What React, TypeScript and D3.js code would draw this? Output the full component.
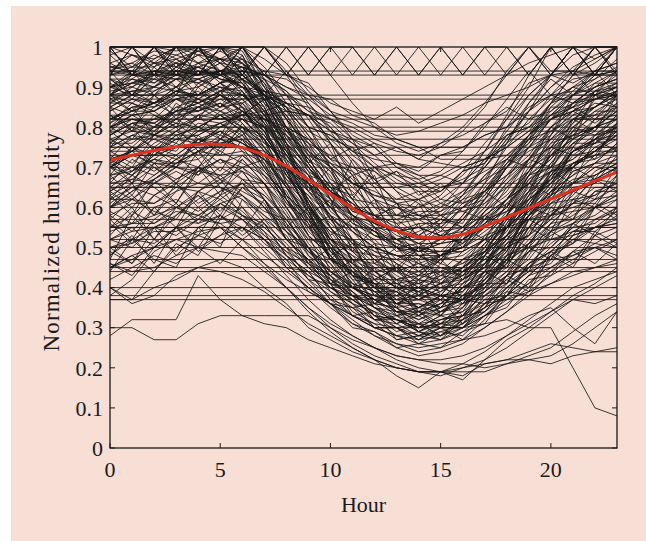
import React from 'react';
import * as d3 from 'd3';

// Hours of the day (x categories)
const hours = [0,1,2,3,4,5,6,7,8,9,10,11,12,13,14,15,16,17,18,19,20,21,22,23];
const xTicks = [0, 5, 10, 15, 20];
const yTicks = [0, 10, 20, 30, 40, 50, 60, 70, 80, 90, 100];
const yTickLabels = ['0', '0.1', '0.2', '0.3', '0.4', '0.5', '0.6', '0.7', '0.8', '0.9', '1'];

// Mean (fitted) normalized humidity by hour, in percent
const meanCurve = [71.8,73.0,74.2,75.1,75.7,75.7,74.9,73.0,70.3,66.9,63.3,59.8,56.6,54.2,52.7,52.4,53.3,55.3,57.5,59.8,62.1,64.3,66.6,68.8];

// Days that stay at one constant value all day (percent)
const flatLevels = [94, 93, 88, 87, 83, 82, 80, 79, 77, 75, 73, 70, 66, 65, 60, 57, 55, 52, 50, 47, 45, 44, 40, 38, 37];

// Saturated days near the top of the range (percent)
const saturatedDays = [
  [100,93,100,93,100,93,100,93,100,93,100,93,100,93,100,93,100,93,100,93,100,93,100,93],
  [93,100,93,100,93,100,93,100,93,100,93,100,93,100,93,100,93,100,93,100,93,100,93,100],
  [94,88,94,88,94,88,94,88,94,86,80,74,70,68,67,69,74,80,87,94,88,94,88,94],
  [88,94,88,94,88,94,88,92,84,77,71,66,63,61,60,62,66,72,79,86,92,88,94,88],
  [100,100,93,88,100,93,100,90,82,75,70,66,63,62,62,64,68,74,82,90,100,93,100,100],
  [93,100,100,93,93,100,93,100,93,100,93,86,80,76,74,76,80,86,93,100,93,100,93,100],
  [100,93,93,100,100,93,100,93,100,93,100,100,93,100,93,100,93,100,100,93,100,93,100,93],
  [100,100,93,100,100,93,100,100,93,85,76,68,62,58,57,60,66,74,83,93,100,100,93,100],
  [93,100,100,100,93,100,100,93,88,80,70,62,55,50,49,52,58,66,76,86,93,100,100,100],
  [100,93,100,100,100,100,93,88,80,71,64,58,54,52,54,57,63,71,80,88,93,100,93,100],
  [94,94,100,94,100,100,94,100,94,88,82,79,76,74,73,75,79,85,94,100,94,94,100,94],
  [88,93,94,93,100,94,93,88,83,76,70,65,60,58,60,63,69,76,82,88,93,94,93,100],
  [100,100,100,100,100,100,100,100,96,89,84,78,75,70,68,65,67,70,77,84,93,100,100,100],
  [94,93,94,94,93,94,94,93,90,87,83,81,78,77,75,75,75,78,80,85,88,92,93,94],
];

// Ordinary days (percent)
const humidityDays = [
  [96,98,97,100,99,100,96,91,84,79,76,70,69,65,66,64,69,71,78,81,88,89,94,96],
  [90,91,94,93,95,92,91,83,78,69,65,59,58,54,56,56,61,63,71,75,82,84,89,90],
  [88,89,89,92,92,94,90,87,77,72,65,63,57,57,53,56,57,64,68,75,78,84,85,89],
  [93,95,95,98,96,97,92,89,80,77,71,69,65,65,62,65,66,72,75,82,84,89,89,93],
  [86,86,90,89,92,90,89,81,75,66,62,56,54,49,50,49,54,57,65,69,76,78,84,84],
  [100,100,100,99,100,100,97,94,86,83,77,75,70,71,69,73,74,81,84,91,93,98,100,100],
  [84,87,86,89,88,91,87,82,72,66,57,54,48,47,44,48,50,58,62,70,73,79,80,84],
  [95,95,98,96,99,97,97,89,83,73,69,62,61,57,59,59,64,67,75,79,86,88,93,93],
  [89,90,93,92,95,92,91,84,80,73,71,66,66,62,64,64,69,71,78,80,85,85,89,88],
  [82,85,85,89,88,91,88,85,75,69,59,55,49,48,45,48,49,56,62,66,73,75,80,80],
  [78,81,81,84,84,86,82,77,66,59,49,46,40,40,37,40,41,48,53,62,66,73,74,79],
  [74,74,78,77,81,80,80,72,65,55,50,43,41,37,38,37,42,45,53,57,64,66,71,71],
  [80,82,81,85,84,87,84,80,69,62,52,48,42,42,39,43,45,53,58,67,70,76,76,80],
  [70,73,73,77,76,79,76,72,62,56,47,44,39,38,35,38,39,46,50,58,61,66,67,70],
  [76,76,80,80,83,82,83,75,69,59,54,47,46,42,43,42,47,49,57,61,68,70,74,74],
  [72,74,74,78,78,81,77,73,63,57,47,43,37,36,33,36,37,44,49,57,60,65,66,70],
  [68,69,73,73,77,76,77,69,63,53,48,41,39,35,36,35,40,43,51,55,61,62,67,66],
  [82,84,84,87,86,88,84,79,68,61,51,47,41,41,38,41,42,49,54,63,67,74,76,81],
  [66,67,71,71,74,73,74,67,62,53,48,41,39,34,35,34,38,40,48,51,58,59,64,64],
  [77,79,78,81,80,83,79,75,65,59,50,46,40,39,35,38,39,46,50,58,62,69,71,76],
  [58,61,61,65,64,67,64,61,52,47,39,36,30,30,27,30,30,36,39,46,49,54,54,58],
  [62,62,66,65,69,68,69,62,56,46,41,33,31,27,28,27,32,35,43,47,54,56,60,60],
  [54,56,56,59,58,61,58,56,48,44,37,35,30,30,27,30,30,35,38,45,47,52,51,54],
  [64,67,66,70,69,72,69,66,56,50,41,38,32,32,29,32,33,39,43,51,54,59,60,64],
  [50,51,54,54,57,56,57,51,47,39,36,30,29,25,26,25,29,31,38,41,47,48,51,50],
  [85,83,88,90,86,89,92,85,74,70,62,55,52,47,50,46,52,55,60,68,70,77,82,83],
  [72,78,75,74,80,83,79,70,66,61,52,49,44,45,41,43,47,50,55,60,66,70,74,78],
  [60,63,58,66,70,68,72,66,60,51,45,40,37,33,34,31,35,40,44,49,55,58,62,65],
  [92,88,90,95,93,94,90,86,80,70,64,61,55,52,50,52,55,61,65,72,80,86,90,92],
  [55,58,63,60,64,62,66,60,54,50,44,40,36,32,30,31,30,34,40,45,49,54,57,60],
  [79,75,80,82,79,84,80,78,70,64,57,50,45,42,44,41,45,49,56,63,70,72,76,77],
  [67,70,68,72,75,71,73,69,63,58,50,46,42,38,40,37,42,46,52,55,62,66,70,72],
  [45,48,44,50,53,51,55,52,48,42,38,33,30,28,26,27,29,33,36,40,44,47,50,48],
  [98,100,96,100,100,97,100,95,88,80,72,67,62,60,58,61,64,70,76,84,90,95,98,100],
  [74,71,76,79,76,80,82,77,67,60,55,47,44,40,37,40,43,47,52,58,64,68,73,75],
  [63,66,70,67,70,74,71,68,62,55,47,44,40,36,38,34,37,42,47,53,58,62,63,68],
  [88,92,90,93,96,94,96,90,82,75,66,58,54,51,49,51,55,60,68,73,80,84,87,90],
  [52,55,50,55,58,62,58,55,50,45,40,37,33,30,31,28,31,34,38,43,48,51,55,56],
  [81,84,86,83,87,85,89,82,73,64,58,51,48,45,43,44,46,51,58,66,73,77,80,84],
  [70,68,72,76,73,77,75,72,66,57,51,45,41,39,37,39,42,46,53,58,63,66,68,71],
  [58,54,60,62,59,63,66,60,55,48,42,38,35,31,33,30,33,37,42,46,51,55,56,60],
  [94,96,93,97,99,96,95,88,78,71,63,58,56,52,53,52,57,63,70,78,84,88,91,94],
  [76,80,78,82,85,82,84,79,71,62,56,51,46,44,40,42,45,50,58,64,69,72,77,80],
  [48,52,55,53,57,60,57,53,49,43,39,35,32,28,29,27,30,33,37,41,45,48,50,52],
  [65,62,67,70,68,72,70,66,58,52,46,40,37,34,32,35,37,41,46,52,57,61,63,66],
  [87,89,86,90,92,89,93,87,79,72,65,60,56,54,55,53,57,62,70,77,82,86,87,88],
  [71,74,77,75,79,81,78,73,65,57,52,46,43,40,39,41,44,48,53,59,64,68,71,73],
  [42,45,48,46,50,53,55,52,46,41,36,31,28,25,23,24,26,30,34,38,41,44,45,47],
  [83,80,85,87,84,88,86,81,73,66,60,54,50,48,46,48,51,56,62,68,73,77,80,82],
  [61,65,63,67,70,67,70,64,57,50,43,39,35,33,31,32,34,38,43,49,54,57,60,63],
  [90,93,92,96,95,97,92,85,71,61,49,43,36,35,31,34,35,43,49,61,69,79,83,88],
  [95,96,99,98,100,100,98,87,76,61,53,44,41,36,37,35,41,45,56,64,75,81,89,91],
  [85,88,88,92,91,94,89,81,66,56,44,39,33,32,29,32,33,41,47,58,65,74,77,83],
  [80,83,84,88,88,91,85,77,62,53,42,38,32,31,28,31,32,40,46,57,63,71,74,79],
  [92,92,96,95,98,97,96,86,75,60,51,43,40,34,34,33,39,44,55,63,74,79,87,89],
  [88,91,90,94,93,96,91,84,69,59,47,42,35,34,30,33,34,42,48,60,67,76,80,86],
  [73,70,78,81,77,75,80,74,63,58,47,45,38,36,39,35,41,44,51,53,62,69,71,76],
  [57,62,59,57,64,68,63,59,57,49,46,38,36,35,29,31,36,38,41,49,50,56,61,58],
  [99,95,100,97,93,100,99,90,85,74,69,60,58,55,53,57,56,65,71,77,86,93,96,100],
  [68,75,71,70,77,74,79,71,60,52,51,43,41,33,35,37,36,42,50,53,57,66,70,69],
  [81,86,83,80,88,90,85,76,72,60,54,52,44,40,41,39,44,51,55,62,71,76,79,85],
  [46,43,50,55,49,53,58,54,45,44,37,33,34,27,28,30,27,32,39,38,44,49,46,51],
  [91,87,93,96,90,94,95,88,79,73,62,57,54,50,47,53,51,59,66,72,78,88,90,92],
  [62,68,65,61,69,72,67,63,58,48,44,41,35,31,34,30,35,41,41,48,56,57,64,66],
  [77,74,79,84,80,78,86,79,68,63,55,47,47,41,42,45,43,50,58,60,69,70,78,79],
  [53,59,56,60,63,59,65,62,54,46,43,36,32,33,29,28,33,34,40,44,46,53,55,59],
  [86,90,88,84,91,93,90,83,73,68,57,51,50,44,46,44,49,52,59,68,72,80,84,87],
  [70,66,74,72,70,77,75,68,64,54,49,44,39,39,34,36,40,41,48,55,58,63,69,72],
  [94,98,95,100,96,99,96,92,82,76,67,64,58,56,57,54,60,64,72,76,85,90,92,97],
  [59,56,63,66,61,64,69,62,52,50,41,39,33,32,30,33,31,36,43,45,52,53,60,62],
  [83,79,82,87,89,85,88,83,74,65,61,52,49,46,43,47,48,52,61,66,71,78,78,83],
  [66,72,69,73,68,75,78,70,61,57,48,43,42,36,36,33,38,44,45,54,59,61,68,71],
  [49,46,52,49,55,58,53,57,50,42,41,34,31,30,26,29,28,33,35,42,43,49,50,47],
  [75,81,78,76,83,86,81,74,70,61,52,50,43,40,40,38,44,46,55,59,66,71,73,80],
  [87,84,89,92,88,91,94,87,76,70,63,56,53,50,51,48,52,59,63,69,77,82,86,85],
  [64,60,66,69,66,70,67,66,59,50,47,40,38,35,32,34,36,39,47,50,56,61,61,67],
  [79,83,80,85,87,84,87,80,69,66,55,49,48,42,41,44,43,49,57,62,66,74,77,78],
  [56,51,57,61,56,61,63,57,53,45,42,37,33,29,31,28,32,37,38,46,49,51,57,59],
  [90,94,91,95,98,94,97,91,80,72,68,59,57,53,51,54,55,62,67,75,82,85,91,91],
  [71,68,75,73,77,79,74,71,62,56,50,42,41,37,35,38,37,44,50,53,61,64,66,73],
  [40,37,44,51,48,57,60,55,50,47,43,38,35,32,30,31,33,36,40,44,48,52,55,57],
  [44,52,47,45,55,50,62,58,54,49,44,40,37,34,33,35,37,41,45,49,53,56,58,62],
  [38,42,49,52,50,46,52,56,51,45,40,36,34,30,28,29,31,35,38,43,45,49,53,55],
  [50,46,55,48,53,61,57,52,45,40,35,31,29,26,24,25,27,30,34,39,43,46,49,52],
  [47,58,52,60,57,63,59,54,49,46,40,37,34,32,31,30,32,35,41,45,50,55,60,63],
  [85,88,92,90,94,93,90,89,86,80,78,74,76,71,70,73,75,78,80,84,88,86,90,92],
  [78,82,80,84,86,83,85,82,80,77,72,70,67,69,66,68,71,74,78,80,83,85,82,86],
  [92,90,94,96,93,97,95,93,90,88,84,82,80,78,79,81,83,86,88,90,93,91,94,96],
  [70,75,73,78,80,77,82,80,78,74,70,66,64,61,62,60,63,67,70,74,77,80,78,82],
  [88,84,86,90,87,91,93,88,85,83,79,77,73,75,72,76,78,81,85,82,87,90,88,91],
  [65,69,72,70,74,78,76,73,70,67,64,61,58,60,57,59,62,64,68,72,75,73,77,80],
  [96,93,97,100,98,100,100,97,93,90,86,84,82,85,81,84,87,90,93,96,98,100,97,100],
  [80,77,83,81,85,88,84,82,79,76,73,68,70,66,65,67,70,72,75,79,82,84,81,85],
  [82,84,86,88,86,89,90,88,85,78,70,62,55,50,46,43,42,45,52,60,68,74,78,80],
  [75,78,77,80,82,81,83,82,78,72,65,58,51,46,42,40,38,41,47,55,63,70,74,77],
  [90,92,91,94,95,93,95,93,89,82,74,66,58,52,48,45,44,48,55,64,73,80,85,88],
  [68,70,72,71,74,76,75,74,70,65,58,52,47,43,40,38,37,39,44,51,58,64,67,70],
  [80,82,81,78,72,65,58,52,47,43,40,38,37,39,43,48,54,60,66,71,75,78,80,82],
  [88,86,84,80,74,67,60,53,48,44,41,40,42,45,50,56,62,68,73,78,82,85,87,88],
  [72,74,70,66,60,55,50,46,42,39,36,35,36,38,42,47,52,57,62,66,69,71,73,74],
  [76,80,74,79,83,77,84,78,70,58,62,49,55,44,50,41,47,52,49,60,58,70,67,75],
  [60,66,58,64,70,63,72,66,55,60,47,52,40,46,38,44,37,48,45,55,52,62,60,68],
  [85,79,88,82,90,85,92,80,76,64,70,57,62,50,56,47,53,58,55,66,63,75,72,81],
  [55,60,52,58,63,57,65,60,52,46,50,40,45,35,42,33,40,44,41,50,47,56,53,60],
  [92,88,95,90,96,91,98,88,82,71,76,63,68,55,61,52,58,64,60,72,70,82,79,88],
  [68,63,71,66,74,69,77,70,61,55,58,46,51,40,47,38,45,49,46,57,54,64,62,70],
  [48,53,46,55,50,58,54,62,52,47,41,44,36,40,33,37,31,38,42,39,48,45,53,50],
  [80,85,78,86,82,89,83,87,77,70,64,68,57,61,52,55,50,57,61,58,69,66,77,74],
  [72,66,75,70,78,73,81,75,68,62,53,57,46,50,44,47,42,49,53,50,60,57,67,64],
  [63,58,67,61,70,66,73,68,60,53,48,51,42,45,38,41,36,43,47,44,54,51,60,57],
  [98,93,100,95,100,96,100,92,85,78,72,75,66,69,63,66,61,68,72,70,80,77,88,85],
  [57,52,60,55,64,58,67,62,55,49,43,47,38,42,34,38,33,39,43,40,49,46,54,51],
  [45,47,50,55,60,64,66,63,57,50,44,40,38,37,40,46,54,62,70,77,83,88,92,95],
  [90,88,86,87,85,84,82,77,70,62,55,49,44,41,39,38,37,36,37,39,41,43,45,46],
  [52,50,55,58,62,66,70,72,68,60,52,45,40,36,34,36,40,48,58,68,78,86,90,94],
  [95,94,96,93,91,88,85,80,73,66,58,52,47,44,42,41,43,45,48,50,52,54,55,56],
  [60,64,68,72,76,80,84,80,74,68,62,58,55,54,55,58,63,70,77,84,90,94,97,100],
  [100,98,96,97,94,92,90,84,76,68,60,54,50,48,47,48,50,53,55,57,58,60,62,63],
  [75,75,75,75,75,75,75,72,65,58,52,48,45,45,45,45,45,48,55,60,65,70,75,75],
  [88,88,88,88,88,88,88,83,76,70,64,60,58,58,58,58,60,64,70,76,82,88,88,88],
  [55,55,55,55,55,55,55,50,45,40,36,33,30,30,30,30,30,33,38,43,48,53,55,55],
  [65,65,65,65,65,65,63,58,52,47,42,40,40,40,40,40,40,42,46,51,56,61,65,65],
  [82,82,82,82,82,82,82,80,74,67,60,54,50,48,48,48,50,55,62,69,76,82,82,82],
  [70,74,78,82,85,88,84,78,70,64,60,72,65,58,62,55,60,66,72,78,83,86,88,90],
  [60,64,67,71,74,77,80,76,73,68,66,62,70,64,58,55,60,62,70,75,80,84,87,89],
  [86,89,90,93,92,94,93,89,88,84,82,77,75,70,67,62,61,64,71,78,86,93,94,100],
  [75,78,80,84,86,89,88,87,84,83,79,76,71,67,64,58,55,52,55,60,68,75,82,88],
  [93,94,93,94,93,94,92,88,85,80,78,74,72,71,68,68,66,69,72,78,83,88,93,94],
  [72,69,75,79,82,85,86,89,86,83,77,72,67,61,58,57,55,58,62,69,74,81,85,88],
  [82,85,86,89,90,93,94,93,92,88,87,83,81,77,75,72,72,72,76,80,86,90,94,94],
  [64,68,73,75,79,80,83,84,86,83,81,76,73,68,65,61,59,57,59,62,67,70,75,78],
  [90,91,93,93,94,93,94,92,89,84,80,73,69,64,61,58,59,61,67,72,79,83,88,90],
  [78,81,82,84,85,87,87,88,86,85,82,80,77,75,72,71,70,72,73,77,79,82,83,85],
  [70,73,74,77,78,81,83,87,88,86,79,71,62,56,50,48,46,49,53,61,67,74,77,81],
  [62,65,67,71,72,76,78,83,84,83,76,69,60,54,48,46,44,47,51,58,64,71,74,78],
  [80,83,84,87,88,91,92,94,93,91,84,77,67,61,55,53,51,55,60,69,75,82,85,89],
  [84,87,85,89,87,90,88,84,76,71,64,60,56,54,51,51,52,56,60,67,72,78,80,84],
  [78,81,79,83,84,86,83,79,72,67,61,58,53,52,49,49,50,54,58,65,69,74,76,79],
  [74,77,78,78,80,83,80,77,70,66,60,57,53,51,49,51,52,56,59,64,67,71,72,75],
  [88,91,92,92,93,96,92,88,80,74,66,61,56,54,52,53,54,59,64,72,77,83,85,89],
  [70,73,71,75,76,79,76,73,67,63,58,55,51,50,48,49,49,52,55,60,63,67,68,71],
];

// Driest days, forming the lower envelope (percent)
const dryDays = [
  [28,32,32,32,43,37,33,31,30,27,25,23,21,20,19,19,20,21,22,24,26,25,24,25],
  [30,30,27,27,31,33,33,33,33,33,30,27,25,22,20,19,18,21,22,22,23,26,30,34],
  [45,48,50,52,54,55,52,48,44,40,36,33,30,28,27,28,30,31,32,30,30,20,10,8],
  [55,56,58,60,58,56,52,46,40,34,29,25,22,18,15,19,21,24,28,32,36,40,42,44],
  [50,52,51,55,53,55,50,45,40,35,30,26,23,21,19,19,17,22,27,30,34,38,41,45],
  [52,54,55,57,56,58,55,49,43,37,32,28,25,23,22,21,21,20,21,22,21,23,24,24],
  [60,62,61,64,66,65,62,56,48,42,36,32,28,26,25,26,27,28,30,33,35,30,26,34],
  [37,37,40,42,45,44,42,39,35,31,28,25,22,20,19,19,19,19,21,23,25,29,33,36],
  [40,36,38,43,45,47,45,40,36,30,27,24,22,20,19,18,20,22,25,29,33,37,40,43],
  [46,44,45,48,50,49,48,44,40,35,31,28,25,23,22,22,23,25,28,31,34,37,36,38],
];

const W = 646;
const H = 541;
const M = { left: 110, right: 617, top: 47, bottom: 448 };
const BG = '#f8dfd5';
const INK = '#161616';
const FONT = '"Liberation Serif", "Times New Roman", serif';

export default function App() {
  const x = d3.scaleLinear().domain([0, 23]).range([M.left, M.right]);
  const y = d3.scaleLinear().domain([0, 100]).range([M.bottom, M.top]);
  const line = d3.line<number>().x((_, i) => x(hours[i])).y((d) => y(d));
  const smooth = d3
    .line<number>()
    .x((_, i) => x(hours[i]))
    .y((d) => y(d))
    .curve(d3.curveCatmullRom.alpha(0.5));

  const allDays = [...saturatedDays, ...humidityDays, ...dryDays];
  const tickLen = 5;

  return (
    <svg
      width={W}
      height={H}
      style={{ position: 'absolute', left: 0, top: 0, display: 'block' }}
      fontFamily={FONT}
    >
      <rect x={0} y={0} width={W} height={H} fill="#ffffff" />
      <rect x={11} y={6} width={W - 11} height={H - 6} fill={BG} />
      <defs>
        <clipPath id="plotClip">
          <rect x={M.left} y={M.top - 1} width={M.right - M.left} height={M.bottom - M.top + 2} />
        </clipPath>
      </defs>
      <g clipPath="url(#plotClip)">
        {flatLevels.map((v, i) => (
          <line
            key={'f' + i}
            x1={x(hours[0])}
            x2={x(hours[hours.length - 1])}
            y1={y(v)}
            y2={y(v)}
            stroke={INK}
            strokeWidth={1}
            strokeOpacity={0.85}
          />
        ))}
        {allDays.map((d, i) => (
          <path
            key={'d' + i}
            d={line(d) || ''}
            fill="none"
            stroke={INK}
            strokeWidth={1}
            strokeOpacity={0.85}
          />
        ))}
        <path d={smooth(meanCurve) || ''} fill="none" stroke="#e2301f" strokeWidth={3} />
      </g>
      <rect
        x={M.left}
        y={M.top}
        width={M.right - M.left}
        height={M.bottom - M.top}
        fill="none"
        stroke="#1a1a1a"
        strokeWidth={1.3}
      />
      {xTicks.map((t) => (
        <g key={'xt' + t}>
          <line x1={x(t)} x2={x(t)} y1={M.bottom} y2={M.bottom - tickLen} stroke="#1a1a1a" strokeWidth={1} />
          <line x1={x(t)} x2={x(t)} y1={M.top} y2={M.top + tickLen} stroke="#1a1a1a" strokeWidth={1} />
          <text x={x(t)} y={477} textAnchor="middle" fontSize={22} fill="#1a1a1a">
            {t}
          </text>
        </g>
      ))}
      {yTicks.map((t, i) => (
        <g key={'yt' + t}>
          <line x1={M.left} x2={M.left + tickLen} y1={y(t)} y2={y(t)} stroke="#1a1a1a" strokeWidth={1} />
          <line x1={M.right} x2={M.right - tickLen} y1={y(t)} y2={y(t)} stroke="#1a1a1a" strokeWidth={1} />
          <text x={103} y={y(t)} dy="0.35em" textAnchor="end" fontSize={22} fill="#1a1a1a">
            {yTickLabels[i]}
          </text>
        </g>
      ))}
      <text x={(M.left + M.right) / 2} y={512} textAnchor="middle" fontSize={22} fill="#1a1a1a">
        Hour
      </text>
      <text
        transform={`translate(59, ${(M.top + M.bottom) / 2 - 6}) rotate(-90)`}
        textAnchor="middle"
        fontSize={23}
        letterSpacing={1.2}
        fill="#1a1a1a"
      >
        Normalized humidity
      </text>
    </svg>
  );
}
